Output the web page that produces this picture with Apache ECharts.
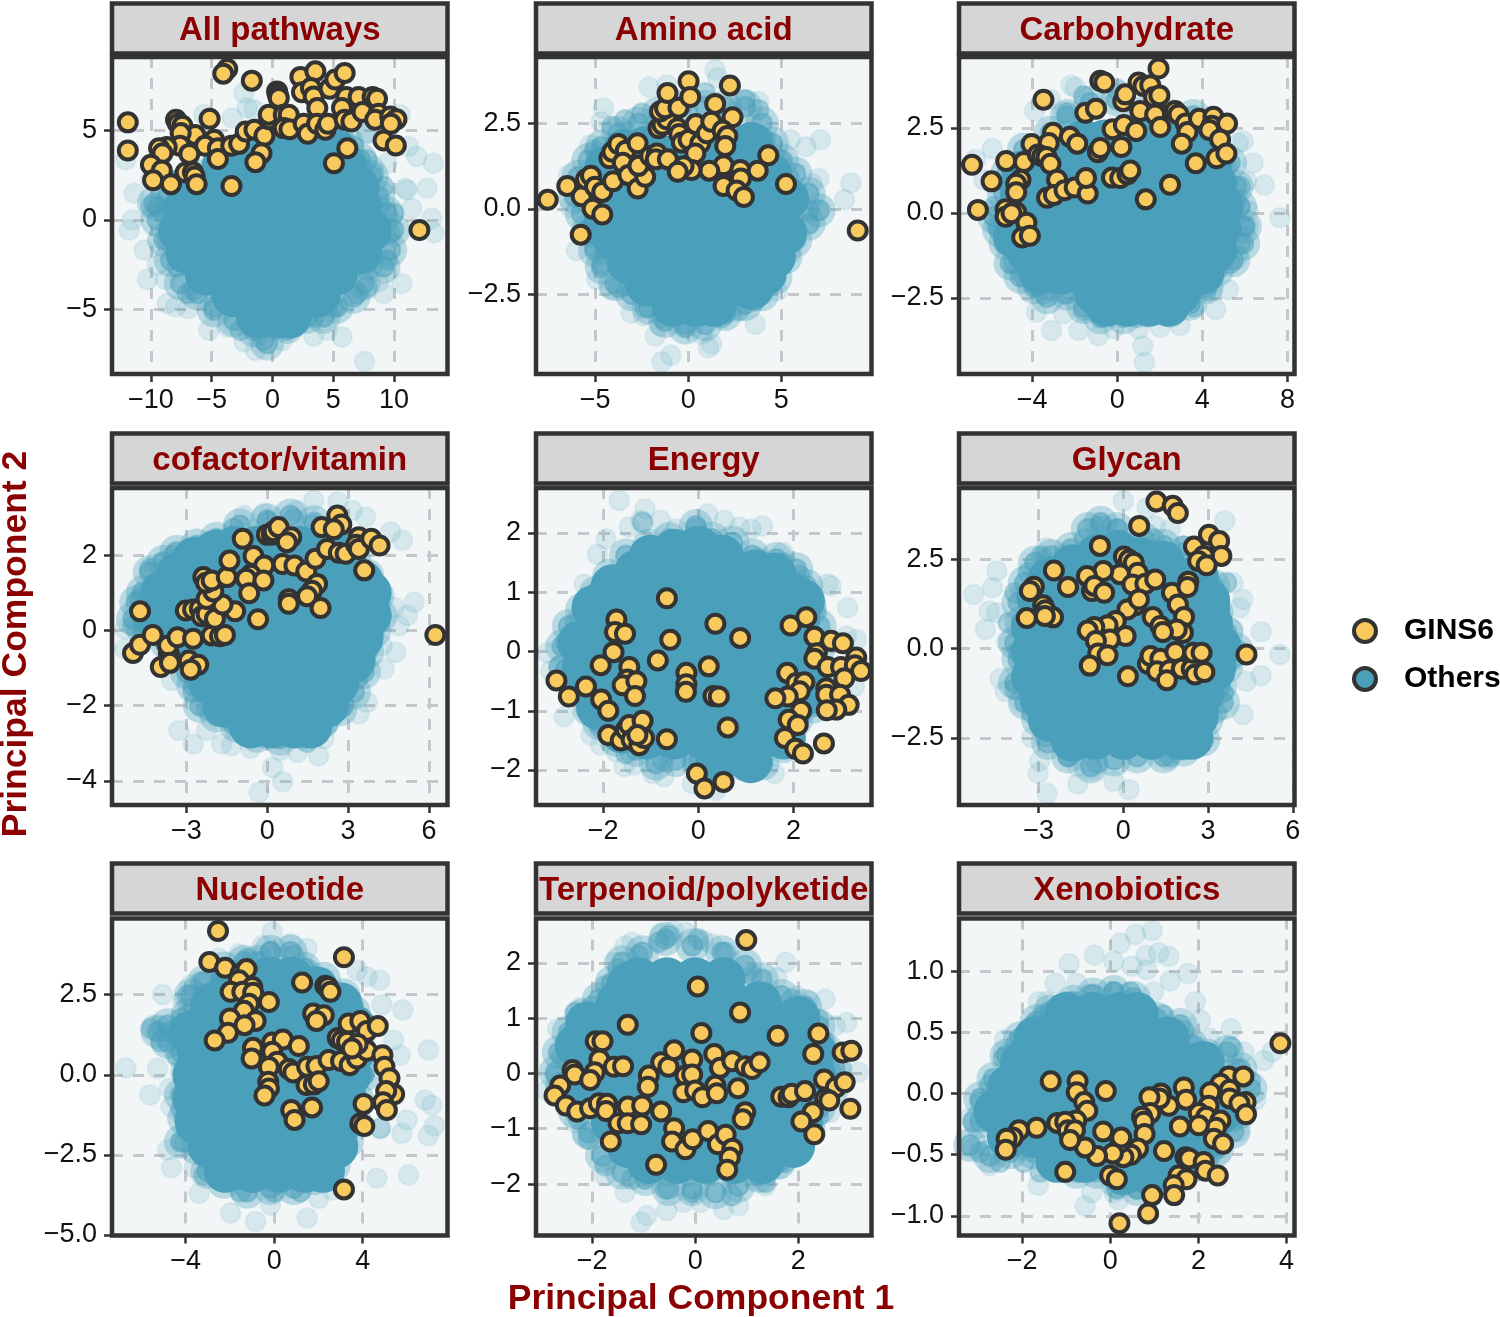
<!DOCTYPE html>
<html>
<head>
<meta charset="utf-8">
<style>html,body{margin:0;padding:0;background:#fff}#main{width:1500px;height:1317px}</style>
<script src="https://cdn.jsdelivr.net/npm/echarts@6/dist/echarts.min.js"></script>
</head>
<body>
<div id="main"></div>
<script>
var seriesNames = ['GINS6', 'Others'];
var panelTitles = ['All pathways','Amino acid','Carbohydrate','cofactor/vitamin','Energy','Glycan','Nucleotide','Terpenoid/polyketide','Xenobiotics'];

// axis limits
var xLimits = [[-13.2,14.4],[-8.17,9.84],[-7.44,8.33],[-5.76,6.69],[-3.41,3.64],[-5.82,6.06],[-7.33,7.83],[-3.09,3.42],[-3.43,4.18]];
var yLimits = [[-8.6,9.1],[-4.82,4.44],[-4.74,4.59],[-4.64,3.79],[-2.59,2.76],[-4.38,4.49],[-5.02,4.88],[-2.93,2.8],[-1.16,1.43]];
var xTicks = [[-10,-5,0,5,10],[-5,0,5],[-4,0,4,8],[-3,0,3,6],[-2,0,2],[-3,0,3,6],[-4,0,4],[-2,0,2],[-2,0,2,4]];
var yTicks = [[-5,0,5],[-2.5,0,2.5],[-2.5,0,2.5],[-4,-2,0,2],[-2,-1,0,1,2],[-2.5,0,2.5],[-5,-2.5,0,2.5],[-2,-1,0,1,2],[-1,-0.5,0,0.5,1]];
var yDecimals = [0,1,1,0,0,1,1,0,1];

// ---- All pathways
var gins1 = [[-11.9,5.45],[-11.9,3.88],[-3.72,8.43],[-4.05,8.17],[-1.7,7.78],[-5.17,5.65],[-7.93,5.6],[-7.77,5.37],[-7.41,5.26],[-6.35,4.74],[-7.55,4.85],[-4.8,4.48],[-5.55,4.14],[-7.6,4.14],[-8.7,4.07],[-9.33,4],[-9.05,3.73],[-6.84,3.69],[-4.49,4],[-4.49,3.4],[-10,3.08],[-9.1,2.76],[-9.82,2.22],[-8.35,2],[-7.14,2.65],[-6.54,2.67],[-6.4,2.43],[-6.24,2],[-3.37,1.9],[-3.39,4.14],[-2.74,4.25],[-2.2,4.94],[-1.48,5.04],[-0.66,4.7],[-0.9,3.73],[-1.4,3.23],[-0.27,5.63],[-0.3,5.88],[0.38,7.18],[0.44,7],[0.52,6.81],[0.93,5.88],[1.34,5.88],[0.93,5.13],[1.4,5.07],[2.57,5.37],[2.9,4.81],[2.3,7.99],[3.53,8.3],[2.43,7.13],[3.17,7.37],[3.39,6.9],[3.69,6.25],[3.67,5.37],[4.35,5.04],[4.57,5.37],[4.7,7.33],[5.17,7.84],[5.94,8.21],[6.07,6.87],[5.72,6.25],[5.94,5.6],[6.5,5.5],[7.09,6.87],[7.41,6.03],[8.24,6.87],[8.6,6.77],[8.73,5.93],[8.45,5.6],[9.69,5.78],[10.2,5.63],[9.74,5.37],[9.14,4.44],[10.15,4.16],[6.16,4.01],[5.06,3.17],[12.09,-0.56]];
var core1 = [[0,4],[2,4],[4,4],[5,4],[-4,3],[-2,3],[0,3],[1.8,3],[3.6,3],[5.4,3],[6,3],[-7,1.8],[-5,1.8],[-3.2,1.8],[-1.4,1.8],[0.4,1.8],[2.2,1.8],[4,1.8],[5.8,1.8],[7,1.8],[-7.2,0.6],[-5.2,0.6],[-3.4,0.6],[-1.6,0.6],[0.2,0.6],[2,0.6],[3.8,0.6],[5.6,0.6],[7.2,0.6],[-7.6,-0.6],[-5.8,-0.6],[-4,-0.6],[-2.2,-0.6],[-0.4,-0.6],[1.4,-0.6],[3.2,-0.6],[5,-0.6],[6.8,-0.6],[8,-0.6],[-7,-1.8],[-5.2,-1.8],[-3.4,-1.8],[-1.6,-1.8],[0.2,-1.8],[2,-1.8],[3.8,-1.8],[5.6,-1.8],[7.2,-1.8],[-5.4,-3],[-3.6,-3],[-1.8,-3],[0,-3],[1.8,-3],[3.6,-3],[5.2,-3],[-3.2,-4.2],[-1.4,-4.2],[0.4,-4.2],[2.2,-4.2],[3.8,-4.2],[-1.2,-5.4],[0.4,-5.4],[1.4,-5.4]];
var ring1 = [[6.13,4.29],[7.22,3.36],[8.18,2.43],[8.73,1.31],[9.41,0.37],[9.96,-0.56],[9.69,-1.68],[9.14,-2.61],[7.77,-2.43],[7.5,-3.54],[6.68,-4.29],[5.31,-4.85],[4.21,-5.41],[2.85,-5.41],[1.2,-5.97],[-0.44,-6.9],[-1.53,-6.16],[-3.17,-5.6],[-4.82,-5.04],[-6.18,-4.1],[-7.55,-3.54],[-8.37,-2.24],[-8.92,-1.12],[-9.47,0],[-9.74,0.93],[-8.65,1.31],[-7.28,1.87],[-5.91,2.43],[-4.54,2.99],[-2.63,3.54],[-0.98,4.29],[0.93,4.48],[2.85,4.48],[4.49,4.48]];
var edge1 = [[7.77,3.36],[8.32,2.61],[9.14,1.87],[9.96,0.37],[9.69,-0.75],[9.41,-2.24],[7.77,-3.73],[6.95,-4.1],[-8.92,0.37],[-9.47,0.75],[-8.65,-1.12],[-7.82,-2.61],[-6.46,-3.92],[-4.82,-4.85],[-2.63,-6.16],[-0.71,-6.72],[1.2,-6.16],[3.39,-5.41],[5.03,-4.85],[-10,0.75],[-7,-4.1],[7.5,-1.87],[8.86,0.75],[8.04,1.12],[6.68,4.1],[7.77,4.85]];
var outer1 = [[13.24,3.17],[11.87,3.54],[11.19,4.1],[10.5,5.88],[12.7,1.77],[10.92,1.77],[11.46,0.65],[13.1,0.09],[13.3,-0.71],[10.64,-3.54],[9.14,-4.1],[8.73,-3.45],[7.58,-7.89],[5.72,-6.53],[3.39,-6.49],[4.49,-6.16],[0.79,-6.72],[-1.4,-7.28],[-2.35,-6.81],[-5.23,-6.16],[-3.72,-5.97],[-8.65,-4.66],[-7.96,-4.85],[-6.95,-4.94],[-10.29,-3.32],[-8.79,-3.32],[-10.56,-1.68],[-9.47,-2.52],[-11.79,-0.56],[-11.52,0],[-11.38,1.49],[-12.07,3.36],[-5.64,5.88],[-3.31,5.69],[-2.35,7.09],[-2.08,6.25],[-1.53,6.16],[6.68,6.53],[9.41,3.17],[11.05,1.68],[-10.01,2.24],[8.32,2.99]];

// ---- Amino acid
var gins2 = [[-7.54,0.27],[-6.49,0.67],[-5.72,0.37],[-5.48,0.87],[-5.22,0.97],[-5,0.65],[-4.61,0.5],[-5.13,0.01],[-4.61,-0.16],[-5.77,-0.75],[-4.03,0.81],[-4.23,1.48],[-4.07,1.67],[-3.75,1.9],[-3.35,1.7],[-3.51,1.35],[-3.21,0.99],[-2.71,0.6],[-2.31,0.94],[-2.72,1.92],[-2.67,1.26],[-2.04,1.55],[-1.68,1.62],[-1.74,1.45],[-1.09,1.45],[-1.59,2.36],[-1.38,2.46],[-1.15,2.62],[-1.51,2.85],[-1.24,2.94],[-1.11,3.39],[-0.52,2.96],[0.02,3.73],[0.11,3.27],[-0.57,2.36],[-0.48,2.19],[-0.34,1.94],[0.02,2.02],[0.41,2.48],[0.65,1.92],[0.38,1.62],[1,2.21],[1.24,2.55],[1.45,3.07],[2.24,3.61],[2.38,2.68],[1.85,2.29],[2.1,2.13],[1.99,1.84],[1.9,1.28],[1.13,1.12],[0.18,1.14],[-0.25,1.25],[-0.56,1.09],[2.08,0.74],[1.9,0.67],[2.8,1.14],[2.83,0.89],[2.6,0.54],[2.99,0.35],[3.73,1.12],[4.3,1.57],[5.25,0.73],[9.1,-0.63]];
var core2 = [[-1,1.5],[0.2,1.5],[1.4,1.5],[2.4,1.5],[-3,1],[-1.8,1],[-0.6,1],[0.6,1],[1.8,1],[3,1],[-3.8,0.4],[-2.6,0.4],[-1.4,0.4],[-0.2,0.4],[1,0.4],[2.2,0.4],[3.4,0.4],[4.4,0.4],[-3.9,-0.25],[-2.7,-0.25],[-1.5,-0.25],[-0.3,-0.25],[0.9,-0.25],[2.1,-0.25],[3.3,-0.25],[4.3,-0.25],[-3.9,-0.9],[-2.7,-0.9],[-1.5,-0.9],[-0.3,-0.9],[0.9,-0.9],[2.1,-0.9],[3.3,-0.9],[-3.2,-1.55],[-2,-1.55],[-0.8,-1.55],[0.4,-1.55],[1.6,-1.55],[2.8,-1.55],[-2.2,-2.2],[-1,-2.2],[0.2,-2.2],[1.4,-2.2],[2.4,-2.2],[-0.8,-2.8],[0.4,-2.8],[1.4,-2.8],[5.2,-0.7],[4.6,-1.4],[4.1,-1.9],[3.4,-2.3],[5.3,0.3],[4.4,1],[-4.4,1.2],[-3.4,1.7],[-2.2,1.8],[3.4,1.9],[-4.6,0.2],[-4.5,-0.5]];
var ring2 = [[-4.64,1.82],[-3.75,2.21],[-2.67,2.5],[-1.59,2.8],[-0.34,2.99],[0.91,2.99],[1.99,2.99],[3.06,2.99],[3.96,2.5],[4.5,1.92],[5.04,1.43],[5.75,1.04],[6.47,0.45],[7.01,-0.04],[6.47,-0.43],[5.75,-0.92],[5.22,-1.41],[4.68,-2],[3.96,-2.49],[3.06,-2.78],[1.99,-3.07],[0.91,-3.37],[-0.16,-3.46],[-1.24,-3.27],[-2.13,-2.88],[-3.03,-2.49],[-3.92,-2.19],[-4.64,-1.7],[-5,-1.21],[-5.36,-0.63],[-5.72,-0.14],[-6.08,0.35],[-5.9,0.94],[-5.36,1.43]];
var edge2 = [[5.93,0.25],[6.47,-0.04],[5.75,-0.53],[5.22,-1.12],[4.68,-1.6],[4.14,-2.29],[3.6,-2.68],[2.71,-2.97],[1.81,-3.17],[-0.16,-3.37],[-1.42,-3.17],[-2.31,-2.88],[-3.75,-2.29],[-4.64,-1.6],[-5,-1.12],[5.39,0.94],[4.86,1.43],[4.14,2.02],[3.78,2.9],[3.06,3.19],[-4.1,2.41],[-3.39,2.6],[-5,1.72],[-2.49,2.8],[5.22,-0.14],[0.91,3.39]];
var outer2 = [[1.45,4.07],[1.59,3.83],[-1.15,3.63],[-2.1,3.56],[-4.55,2.95],[-4.68,2.55],[-5.27,1.87],[-6.43,0.99],[-6.34,0.06],[-5.99,-1.21],[-4.91,-2.05],[-4.19,-2.34],[-3.06,-3.04],[-2.4,-3.12],[-1.77,-3.71],[-1.51,-3.41],[-1.42,-4.46],[-0.93,-4.27],[-0.34,-3.37],[0.73,-3.66],[1.09,-4.05],[1.27,-3.95],[3.6,-3.37],[2.71,-2.83],[4.77,-2.39],[5.48,-1.31],[6.56,-0.43],[7.1,-0.02],[7.01,0.89],[6.65,0.74],[8.39,0.27],[8.73,0.76],[7.1,2.02],[6.33,1.82],[5.48,2.02],[3.78,3.14]];

// ---- Carbohydrate
var gins3 = [[-6.83,1.42],[-5.91,0.93],[-6.55,0.09],[-5.22,1.53],[-4.39,1.5],[-4.03,2.03],[-4.55,0.98],[-4.75,0.86],[-4.75,0.61],[-5.25,0.11],[-5.25,-0.11],[-4.75,0.02],[-4.97,-0.01],[-4.27,-0.29],[-4.47,-0.72],[-4.11,-0.67],[-3.47,3.33],[-3.02,2.36],[-3.22,2.06],[-3.73,1.72],[-3.53,1.67],[-3.33,1.65],[-3.14,1.45],[-2.83,0.98],[-3.3,0.45],[-2.98,0.53],[-2.48,0.67],[-2,0.75],[-1.39,0.57],[-1.47,1.03],[-2.23,2.24],[-1.88,2.04],[-1.5,2.95],[-1,3.07],[-0.8,3.89],[-0.61,3.84],[-0.91,1.79],[-0.8,1.91],[-0.22,2.46],[0.19,1.94],[0.31,2.59],[0.89,2.41],[-0.25,1.04],[0.14,1.03],[0.48,1.14],[0.61,1.25],[0.28,3.29],[0.38,3.49],[1.08,3],[1,3.84],[1.23,3.74],[1.55,3.76],[1.73,3.41],[1.98,3.46],[1.94,4.25],[1.98,2.93],[1.78,2.9],[2.02,2.53],[1.34,0.4],[2.48,0.83],[2.72,3],[2.88,2.9],[3.22,2.63],[3.3,2.38],[3.03,2.04],[3.84,2.77],[3.69,1.46],[4.52,2.83],[4.44,2.57],[4.33,2.44],[5.16,2.63],[4.83,2.16],[4.67,1.61],[5.13,1.75]];
var core3 = [[-1.6,2.1],[-0.6,2.1],[0.4,2.1],[1.4,2.1],[2.4,2.1],[3.4,2.1],[-3.2,1.5],[-2.2,1.5],[-1.2,1.5],[-0.2,1.5],[0.8,1.5],[1.8,1.5],[2.8,1.5],[3.8,1.5],[4.4,1.5],[-3.6,0.85],[-2.6,0.85],[-1.6,0.85],[-0.6,0.85],[0.4,0.85],[1.4,0.85],[2.4,0.85],[3.4,0.85],[4.4,0.85],[4.6,0.85],[-3.8,0.2],[-2.8,0.2],[-1.8,0.2],[-0.8,0.2],[0.2,0.2],[1.2,0.2],[2.2,0.2],[3.2,0.2],[4.2,0.2],[4.9,0.2],[-4,-0.45],[-3,-0.45],[-2,-0.45],[-1,-0.45],[0,-0.45],[1,-0.45],[2,-0.45],[3,-0.45],[4,-0.45],[4.8,-0.45],[-4.2,-1.1],[-3.2,-1.1],[-2.2,-1.1],[-1.2,-1.1],[-0.2,-1.1],[0.8,-1.1],[1.8,-1.1],[2.8,-1.1],[3.8,-1.1],[4.6,-1.1],[-3.6,-1.75],[-2.6,-1.75],[-1.6,-1.75],[-0.6,-1.75],[0.4,-1.75],[1.4,-1.75],[2.4,-1.75],[3.4,-1.75],[4,-1.75],[-1,-2.35],[0,-2.35],[1,-2.35],[2,-2.35],[2.9,-2.35],[-0.5,-2.7],[0.5,-2.7],[1.5,-2.7],[2.4,-2.7],[-4.5,0.6],[-4.7,0],[-4.8,-0.7],[-4.4,1.2]];
var ring3 = [[-4.39,1.86],[-3.14,2.36],[-2.36,2.85],[-1.27,3.24],[-0.02,3.34],[1.23,2.95],[2.48,2.85],[3.58,2.85],[4.52,2.36],[5.3,1.47],[5.61,0.78],[5.77,0.19],[6,-0.4],[5.92,-0.9],[5.45,-1.39],[4.67,-1.69],[4.2,-2.18],[3.42,-2.67],[2.48,-2.87],[1.39,-2.87],[0.3,-3.07],[-0.8,-3.07],[-1.58,-2.77],[-2.36,-2.38],[-3.3,-2.48],[-3.92,-2.18],[-4.55,-1.88],[-5.02,-1.49],[-5.25,-0.9],[-5.56,-0.5],[-5.8,-0.11],[-5.33,0.58],[-5.17,1.17]];
var edge3 = [[5.61,0.38],[5.92,-0.4],[5.77,-0.9],[5.3,-1.49],[4.52,-1.88],[4.2,-2.28],[3.58,-2.77],[2.48,-2.97],[0.92,-3.07],[-0.64,-3.07],[-1.58,-2.87],[-2.52,-2.38],[-3.45,-2.38],[-3.77,-2.18],[-4.39,-1.88],[-4.86,-1.49],[-5.33,-0.9],[-5.64,-0.4],[-5.8,0.19],[5.77,0.78],[5.14,1.37],[4.2,2.36],[-2.36,2.95],[-1.58,3.44],[-0.02,3.64]];
var outer3 = [[-2.17,3.76],[-1.97,3.69],[-3.89,3],[-3.14,3.34],[-2.52,2.95],[-5.88,1.89],[-6.66,1.57],[-6.27,0.98],[5.92,2.11],[5.69,2.06],[6.39,1.47],[6.08,0.93],[6.91,0.82],[6.16,0.06],[7.64,-0.14],[6.16,-0.4],[5.64,-1.29],[5.22,-2.26],[4.44,-2.28],[4.63,-2.84],[2.95,-3.31],[2.02,-3.36],[1,-3.41],[-0.17,-3.41],[-0.88,-3.61],[-1.81,-3.46],[-3.09,-3.46],[-2.52,-2.97],[-3.8,-2.92],[1.2,-3.91],[1.28,-4.4],[5.77,0.14]];

// ---- cofactor/vitamin
var gins4 = [[-4.72,0.51],[-4.98,-0.6],[-4.72,-0.38],[-4.25,-0.12],[-3.65,-0.62],[-3.68,-0.4],[-3.33,-0.18],[-3.95,-0.97],[-3.61,-0.86],[-2.91,-0.8],[-2.56,-0.91],[-2.84,-1.04],[-2.75,-0.22],[-2.06,-0.13],[-1.75,-0.15],[-1.57,-0.12],[-3.02,0.53],[-2.75,0.56],[-2.5,0.58],[-2.43,0.38],[-2.25,0.44],[-1.94,0.31],[-1.19,0.51],[-1.66,0.69],[-2.15,0.95],[-2.25,0.84],[-2,1.04],[-2.37,1.42],[-2.27,1.27],[-2.06,1.33],[-1.5,1.42],[-1.4,1.86],[-0.91,2.44],[-0.51,1.98],[-0.11,1.73],[-0.61,1.48],[-0.78,1.38],[-0.14,1.33],[-0.67,0.99],[-0.34,0.3],[-0.01,2.55],[0.17,2.55],[0.24,2.64],[0.42,2.75],[0.89,2.48],[0.73,2.35],[0.57,1.77],[1.01,1.73],[0.8,0.83],[0.8,0.71],[1.45,1.57],[1.79,1.91],[1.85,1.24],[1.66,1.06],[1.48,0.91],[1.98,0.6],[2.22,2.17],[2.02,2.75],[2.6,3.06],[2.75,2.82],[2.47,2.69],[2.66,2.07],[2.91,2.04],[3.4,2.48],[3.3,2.28],[3.4,2.17],[3.86,2.44],[4.17,2.26],[3.6,1.6],[6.24,-0.12]];
var core4 = [[-1.2,2.2],[-0.4,2.2],[0.4,2.2],[1.2,2.2],[2,2.2],[2.7,2.2],[-2.4,1.6],[-1.6,1.6],[-0.8,1.6],[0,1.6],[0.8,1.6],[1.6,1.6],[2.4,1.6],[3,1.6],[-3,1],[-2.2,1],[-1.4,1],[-0.6,1],[0.2,1],[1,1],[1.8,1],[2.6,1],[3.4,1],[3.8,1],[-3.4,0.4],[-2.6,0.4],[-1.8,0.4],[-1,0.4],[-0.2,0.4],[0.6,0.4],[1.4,0.4],[2.2,0.4],[3,0.4],[3.8,0.4],[-2.6,-0.2],[-1.8,-0.2],[-1,-0.2],[-0.2,-0.2],[0.6,-0.2],[1.4,-0.2],[2.2,-0.2],[3,-0.2],[3.5,-0.2],[-2.2,-0.8],[-1.4,-0.8],[-0.6,-0.8],[0.2,-0.8],[1,-0.8],[1.8,-0.8],[2.6,-0.8],[3.2,-0.8],[-2.1,-1.4],[-1.3,-1.4],[-0.5,-1.4],[0.3,-1.4],[1.1,-1.4],[1.9,-1.4],[2.6,-1.4],[-1.6,-2],[-0.8,-2],[0,-2],[0.8,-2],[1.6,-2],[2.2,-2],[-0.6,-2.55],[0.2,-2.55],[1,-2.55],[1.6,-2.55],[-3.9,1],[-3.3,1.5],[-2.7,1.9],[-1.9,2.1],[-4.2,0.4],[-3.4,-0.2],[3.5,1.3]];
var ring4 = [[-4.61,1.02],[-4.36,1.55],[-3.86,1.82],[-3.37,2.09],[-2.62,2.26],[-1.88,2.44],[-1.01,2.8],[0,2.93],[0.86,3.06],[1.73,2.88],[2.47,2.53],[3.22,2],[3.71,1.46],[4.09,0.93],[4.21,0.4],[3.96,-0.04],[3.71,-0.58],[3.59,-1.11],[3.22,-1.64],[2.72,-2.09],[2.1,-2.35],[1.35,-2.71],[0.48,-2.88],[-0.39,-2.8],[-1.13,-2.53],[-1.88,-2.26],[-2.5,-2],[-2.75,-1.46],[-2.99,-1.11],[-3.74,-0.31],[-4.61,0.04],[-4.98,0.31],[-4.86,0.75]];
var edge4 = [[-4.36,1.64],[-3.99,1.29],[-4.11,0.84],[-4.73,0.84],[-3.49,2],[-3.24,1.73],[-4.98,0.13],[-4.36,0.13],[-2.75,2.09],[-2,2.35],[-1.25,2.71],[0,2.88],[0.98,2.97],[1.73,2.8],[3.71,1.46],[4.09,0.75],[3.84,-0.04],[3.59,-0.84],[3.34,-1.29],[2.84,-2],[2.22,-2.53],[1.48,-2.97],[-0.01,-2.88],[-1.25,-2.53],[-2.25,-2.09],[-2.75,-1.64],[3.96,0.4]];
var outer4 = [[1.73,3.46],[2.62,3.42],[-0.86,3.06],[-0.14,3.11],[1.11,3.19],[3.65,3.02],[4.58,2.62],[5.02,2.4],[3.16,3.19],[-4.21,1.66],[-4.67,0.98],[-5.29,0.04],[-5.29,-0.49],[-3.55,-1.33],[4.71,0.62],[5.45,0.75],[5.2,0.4],[4.89,0.13],[4.77,-0.58],[4.27,-0.4],[4.34,-1.02],[3.71,-1.91],[3.4,-2.22],[-3.28,-2.66],[-2.75,-3.02],[-2.25,-2.66],[-1.69,-3.02],[-1.32,-3.06],[-0.61,-3.13],[0.48,-3.19],[1.13,-3.24],[1.91,-3.33],[2.1,-2.88],[0.2,-3.64],[0.57,-4.02],[-0.3,-4.3]];

// ---- Energy
var gins5 = [[-2.98,-0.49],[-2.72,-0.76],[-2.36,-0.59],[-2.04,-0.81],[-1.89,-1],[-2.05,-0.23],[-1.78,-0.01],[-1.72,0.54],[-1.75,0.33],[-1.54,0.3],[-1.45,-0.26],[-1.49,-0.47],[-1.59,-0.57],[-1.3,-0.5],[-1.33,-0.75],[-1.89,-1.41],[-1.63,-1.5],[-1.52,-1.32],[-1.45,-1.24],[-1.4,-1.49],[-1.24,-1.58],[-1.14,-1.46],[-1.17,-1.17],[-1.28,-1.41],[-0.66,-1.48],[-0.66,0.9],[-0.59,0.2],[-0.85,-0.15],[-0.25,-0.36],[-0.25,-0.55],[-0.26,-0.68],[0.22,-0.25],[0.36,0.47],[0.88,0.23],[0.32,-0.75],[0.43,-0.76],[0.62,-1.28],[-0.03,-2.06],[0.13,-2.31],[0.53,-2.2],[1.94,0.44],[2.27,0.58],[2.44,0.25],[2.49,-0.03],[2.44,-0.12],[2.79,0.18],[3.04,0.14],[2.72,-0.26],[3,-0.26],[3.32,-0.1],[3.29,-0.23],[3.42,-0.33],[3.07,-0.45],[1.87,-0.36],[2.06,-0.53],[2.23,-0.52],[2.13,-0.67],[1.88,-0.76],[1.62,-0.79],[2.69,-0.62],[2.69,-0.73],[2.98,-0.73],[3.16,-0.9],[2.9,-0.98],[2.7,-0.99],[2.16,-1],[1.9,-1.15],[2.09,-1.24],[1.82,-1.46],[2.04,-1.64],[2.2,-1.72],[2.64,-1.55]];
var core5 = [[-0.5,1.7],[0,1.75],[0.5,1.6],[-1,1.6],[-0.6,1.35],[0,1.35],[0.6,1.35],[1.2,1.35],[1.6,1.3],[-1.6,0.95],[-1,0.95],[-0.4,0.95],[0.2,0.95],[0.8,0.95],[1.4,0.95],[2,0.95],[-2,0.55],[-1.4,0.55],[-0.8,0.55],[-0.2,0.55],[0.4,0.55],[1,0.55],[1.6,0.55],[2.1,0.55],[-2.5,0.15],[-1.9,0.15],[-1.3,0.15],[-0.7,0.15],[-0.1,0.15],[0.5,0.15],[1.1,0.15],[1.7,0.15],[2.2,0.15],[-2.4,-0.25],[-1.8,-0.25],[-1.2,-0.25],[-0.6,-0.25],[0,-0.25],[0.6,-0.25],[1.2,-0.25],[1.8,-0.25],[2.3,-0.25],[-2,-0.65],[-1.4,-0.65],[-0.8,-0.65],[-0.2,-0.65],[0.4,-0.65],[1,-0.65],[1.6,-0.65],[2.1,-0.65],[-1.7,-1.05],[-1.1,-1.05],[-0.5,-1.05],[0.1,-1.05],[0.7,-1.05],[1.3,-1.05],[1.9,-1.05],[-1.1,-1.45],[-0.5,-1.45],[0.1,-1.45],[0.7,-1.45],[1.3,-1.45],[1.8,-1.45],[0.4,-1.85],[1.1,-1.85],[-2.2,0.75],[-1.8,1.1],[-1.3,1.35],[2.2,0.85],[-2.5,-0.5],[-2.1,-0.95],[-1.6,-1.35],[2.3,-0.7]];
var ring5 = [[-0.05,2.12],[0.3,1.9],[0.72,1.84],[1.14,1.62],[1.64,1.56],[2.06,1.39],[2.27,1.11],[2.34,0.77],[2.55,0.43],[2.55,0.09],[2.55,-0.47],[2.41,-0.93],[2.06,-1.15],[1.78,-1.6],[1.35,-1.89],[0.93,-1.89],[0.51,-1.83],[0.02,-1.83],[-0.47,-1.83],[-0.89,-1.89],[-1.31,-1.66],[-1.73,-1.49],[-2.08,-1.21],[-2.29,-0.98],[-2.58,-0.64],[-2.79,-0.31],[-2.86,0.09],[-2.72,0.43],[-2.44,0.71],[-2.15,0.99],[-1.87,1.28],[-1.52,1.62],[-1.03,1.79],[-0.61,1.9]];
var edge5 = [[-0.05,2.07],[-0.33,1.84],[0.3,1.84],[-0.82,1.67],[-1.38,1.45],[-1.87,1.28],[0.72,1.67],[1.28,1.56],[1.78,1.5],[2.13,1.28],[2.27,0.88],[2.48,0.66],[-2.58,0.49],[-2.79,0.15],[-2.93,-0.25],[-2.72,-0.53],[-2.36,-0.98],[-2.08,-1.27],[-1.52,-1.72],[-0.75,-1.83],[-0.12,-1.89],[0.51,-1.83],[1.14,-1.89],[1.56,-1.55],[1.92,-1.27],[-1.94,0.88],[-1.17,2.18]];
var outer5 = [[-1.66,2.55],[-1.12,2.41],[-1.21,2.21],[-1.45,2.1],[-0.79,2.21],[-0.47,2.07],[0.2,2.32],[0.55,2.21],[0.86,2.1],[1.35,2.12],[1.11,2.07],[1.78,1.67],[-1.94,1.9],[-2.12,1.64],[-2.4,1.14],[2.72,1.14],[2.79,1.11],[3.14,0.74],[3.11,0.26],[3.32,0.2],[3.28,-0.59],[-3.17,-0.02],[-3.1,-0.33],[-2.82,-1.1],[-2.26,-1.41],[-2.05,-1.58],[-1.56,-1.94],[-1.35,-1.92],[-0.96,-2.06],[-0.72,-2.11],[0.37,-2.34],[0.48,-1.92],[1.6,-2.06],[-0.12,-2.23],[-1.73,-1.69]];

// ---- Glycan
var gins6 = [[1.17,4.11],[1.75,3.99],[1.93,3.79],[0.56,3.43],[3.03,3.18],[3.39,3.01],[3.47,2.59],[2.5,2.85],[2.85,2.59],[2.65,2.45],[2.95,2.33],[-0.83,2.87],[0.02,2.57],[0.2,2.48],[0.37,2.4],[-0.12,2.08],[-0.71,2.17],[-1.29,2.03],[-2.46,2.18],[-1.96,1.72],[-1.11,1.61],[-1.03,1.75],[-0.68,1.56],[0.51,2.12],[0.32,1.79],[0.78,1.81],[1.13,1.93],[-3.17,1.73],[-3.31,1.61],[-2.84,1.21],[-2.76,1.07],[-2.49,0.87],[-2.78,0.91],[-3.42,0.85],[1.72,1.56],[2.3,1.87],[2.27,1.72],[1.93,1.23],[2.15,0.88],[2.11,0.44],[1.89,0.53],[1.04,0.88],[1.31,0.63],[1.4,0.46],[0.43,1.21],[0.14,1.09],[0.55,1.37],[-0.27,0.77],[-0.56,0.65],[-1.03,0.6],[-1.26,0.5],[0.08,0.35],[-0.48,0.25],[-0.97,0.21],[-0.89,-0.14],[-0.56,-0.19],[-1.19,-0.48],[0.16,-0.78],[0.87,-0.43],[0.96,-0.21],[1.31,-0.29],[1.19,-0.64],[1.64,-0.61],[1.54,-0.89],[1.84,-0.1],[2.07,-0.57],[2.42,-0.57],[2.54,-0.73],[2.48,-0.12],[2.77,-0.12],[2.87,-0.66],[4.36,-0.17]];
var core6 = [[-0.9,2.6],[-0.2,2.7],[0.6,2.5],[1.4,2.4],[-1.4,2],[-0.4,2],[0.6,2],[1.6,2],[2.6,2],[-2.2,1.35],[-1.2,1.35],[-0.2,1.35],[0.8,1.35],[1.8,1.35],[2.8,1.35],[3,1.35],[-2.6,0.7],[-1.6,0.7],[-0.6,0.7],[0.4,0.7],[1.4,0.7],[2.4,0.7],[3.1,0.7],[-2.4,0.05],[-1.4,0.05],[-0.4,0.05],[0.6,0.05],[1.6,0.05],[2.6,0.05],[3.4,0.05],[-2.6,-0.6],[-1.6,-0.6],[-0.6,-0.6],[0.4,-0.6],[1.4,-0.6],[2.4,-0.6],[3.2,-0.6],[-2.2,-1.25],[-1.2,-1.25],[-0.2,-1.25],[0.8,-1.25],[1.8,-1.25],[2.8,-1.25],[-2,-1.9],[-1,-1.9],[0,-1.9],[1,-1.9],[2,-1.9],[2.6,-1.9],[-1,-2.5],[0,-2.5],[1,-2.5],[2,-2.5],[2.4,-2.5],[-3,1.4],[-2.6,1.95],[-1.8,2.3],[-3.2,0.6],[-3.2,-0.1],[-3.2,-0.8],[-2.9,-1.4],[-2.6,-2],[-1.8,-2.55],[3,1.1]];
var ring6 = [[-0.8,3.52],[-0.21,3.34],[0.73,3.06],[1.43,2.87],[2.13,2.68],[2.6,2.03],[3.18,1.75],[3.3,1],[3.65,0.44],[4,-0.03],[3.65,-0.5],[3.42,-1.06],[3.53,-1.52],[2.95,-1.99],[2.83,-2.55],[2.13,-2.83],[1.43,-3.02],[0.49,-3.02],[-0.33,-3.11],[-1.15,-3.3],[-1.96,-3.02],[-2.67,-2.64],[-3.02,-1.99],[-3.49,-1.52],[-3.84,-0.96],[-3.72,-0.31],[-3.84,0.16],[-3.6,0.72],[-3.72,1.28],[-3.49,1.84],[-3.13,2.4],[-2.55,2.59],[-1.85,2.78],[-1.26,3.34]];
var edge6 = [[-0.8,3.43],[-0.21,3.34],[-1.38,3.06],[-2.08,2.5],[-2.9,2.59],[-3.37,2.12],[-3.84,1.56],[-4.07,0.72],[-3.72,-0.12],[-3.84,-1.15],[-3.25,-1.8],[-2.78,-2.46],[-1.96,-3.02],[-0.91,-3.21],[1.66,-3.02],[2.6,-2.74],[3.3,-1.8],[3.53,-1.24],[3.88,-0.31],[3.53,0.44],[3.18,1.28],[3.65,1.84],[1.08,3.06],[2.13,2.87],[2.6,2.12],[2.95,1.65]];
var outer6 = [[0,4.13],[0.84,3.94],[1.13,3.43],[1.66,3.34],[3.59,3.57],[3.88,1.84],[4.23,1.37],[4.12,1.14],[3.88,0.53],[4.88,0.47],[5.54,-0.17],[4.88,-0.76],[4.35,-0.92],[4.23,-1.85],[-5.3,1.51],[-4.48,2.17],[-4.63,1.7],[-4.75,1.05],[-4.48,1],[-4.89,0.53],[-4.13,0.18],[-4.36,-0.85],[-4.19,-1.2],[-3.66,-1.48],[-3.25,-2.49],[-2.96,-3.14],[-3.02,-3.49],[-2.7,-4.05],[-1.61,-3.3],[-1.61,-3.79],[-0.33,-3.72],[0.2,-3.95],[-1.09,-3.39],[1.6,-3.11],[-2.73,2.82],[-2.08,2.64]];

// ---- Nucleotide
var gins7 = [[-2.54,4.49],[-2.93,3.52],[-2.22,3.34],[-1.52,3.16],[-1.25,3.3],[-1.59,2.95],[-0.99,2.74],[-1.97,2.59],[-1.44,2.59],[-0.95,2.56],[-0.24,2.27],[-1.14,2.22],[-1.37,2],[-2,1.76],[-0.84,1.68],[-1.34,1.55],[-2.09,1.31],[-2.69,1.07],[-0.96,0.84],[-1.02,0.51],[1.26,2.88],[2.31,2.78],[2.43,2.74],[2.54,2.59],[1.76,1.91],[2.24,1.86],[1.91,1.68],[-0.09,1.01],[0.39,1.1],[1.11,0.9],[-0.09,0.72],[0.14,0.41],[-0.24,0.24],[-0.27,-0.22],[-0.24,-0.43],[-0.44,-0.65],[0.66,0.18],[0.86,0.07],[1.49,0.25],[1.91,0.27],[1.46,-0.32],[1.79,-0.3],[2.01,-0.2],[0.77,-1.1],[0.92,-1.41],[1.71,-1.02],[2.46,0.46],[3.02,0.43],[3.41,0.3],[3.74,0.51],[4.19,0.75],[2.87,1.15],[3.06,1.08],[3.36,1.6],[3.89,1.68],[4.19,1.37],[4.68,1.52],[3.29,1.03],[3.77,0.96],[3.51,0.82],[4.89,0.61],[4.98,0.25],[5.21,-0.11],[5.42,-0.61],[5.06,-0.51],[4.92,-0.86],[5.09,-1.1],[4.04,-0.91],[3.89,-1.52],[4.07,-1.6],[3.15,3.67],[3.15,-3.58]];
var core7 = [[-0.2,3],[0.8,3],[-2.8,2.2],[-1.6,2.2],[-0.4,2.2],[0.9,2.2],[2.1,2.2],[3,2.2],[-3.2,1.5],[-2,1.5],[-0.8,1.5],[0.4,1.5],[1.6,1.5],[2.8,1.5],[3.6,1.5],[-3.4,0.75],[-2.2,0.75],[-1,0.75],[0.2,0.75],[1.4,0.75],[2.6,0.75],[3.6,0.75],[-3.6,0],[-2.4,0],[-1.2,0],[0,0],[1.2,0],[2.4,0],[3.4,0],[-3.6,-0.75],[-2.4,-0.75],[-1.2,-0.75],[0,-0.75],[1.2,-0.75],[2.4,-0.75],[3.2,-0.75],[-3.5,-1.5],[-2.3,-1.5],[-1.1,-1.5],[0.1,-1.5],[1.3,-1.5],[2.5,-1.5],[3,-1.5],[-2.9,-2.25],[-1.7,-2.25],[-0.5,-2.25],[0.7,-2.25],[1.9,-2.25],[2.8,-2.25],[-2.2,-3],[-1,-3],[0.2,-3],[1.4,-3],[2.2,-3],[-1.9,2.9],[1.9,2.7],[-3.8,1.3]];
var ring7 = [[-0.17,3.84],[0.74,3.84],[1.34,3.32],[2.24,3],[3.14,2.48],[3.59,1.96],[3.74,1.34],[3.89,0.61],[4.04,-0.01],[3.74,-0.74],[3.59,-1.36],[3.29,-2.09],[2.69,-2.82],[1.79,-3.23],[0.89,-3.54],[-0.17,-3.54],[-1.22,-3.65],[-2.27,-3.34],[-3.02,-3.03],[-3.47,-2.3],[-4.22,-2.09],[-4.07,-1.36],[-4.22,-0.63],[-3.92,0.09],[-4.22,0.72],[-4.82,1.03],[-5.27,1.34],[-4.82,1.55],[-3.92,1.86],[-3.77,2.48],[-3.17,2.9],[-2.27,3.32],[-1.37,3.52],[-0.77,3.52]];
var edge7 = [[-0.17,3.84],[0.89,3.73],[1.49,3.32],[-1.22,3.63],[-2.27,3.32],[-3.32,2.9],[-3.92,2.48],[-4.22,1.76],[-4.67,1.34],[-5.12,1.03],[-4.37,0.61],[-4.07,-0.22],[-4.22,-1.05],[-4.07,-2.09],[-3.17,-3.13],[-1.52,-3.65],[-0.02,-3.65],[1.19,-3.65],[2.39,-3.03],[3.29,-2.3],[3.74,-1.26],[4.04,-0.01],[3.14,2.48],[3.59,1.96],[-5.57,1.44],[4.79,-1.67]];
var outer7 = [[-0.09,4.46],[0.74,4.1],[1.49,3.94],[-0.54,4.04],[-1.59,3.78],[-2.49,3.63],[-5.05,2.51],[-3.77,2.8],[-4.14,2.33],[-6.7,0.22],[-5.27,0.2],[-5.5,1.55],[-5.62,-0.63],[-4.74,-0.43],[-4.67,-1],[-4.82,-2.35],[-4.64,-2.9],[-3.62,-2.9],[-3.39,-3.7],[-1.97,-4.32],[-0.84,-4.58],[-0.17,-4.06],[1.49,-4.48],[2.01,-3.86],[2.61,-3.6],[4.64,-3.23],[6.07,-3.13],[6.97,-1.9],[7.24,-1.59],[5.77,-1.83],[6,-1.41],[7.12,-0.95],[6.82,-0.79],[6.97,0.77],[5.69,0.61],[5.39,1.08],[5.81,2.02],[4.86,2.19],[4.77,2.95],[4.19,3.06],[3.74,3.26]];

// ---- Terpenoid/polyketide
var gins8 = [[0.99,2.41],[0.05,1.57],[0.87,1.1],[-1.31,0.88],[0.12,0.73],[1.6,0.68],[2.39,0.72],[2.29,0.35],[-1.93,0.58],[-1.8,0.58],[-1.86,0.25],[-1.58,0.12],[-1.4,0.13],[-2.38,0.06],[-2.34,-0.02],[-1.95,0.02],[-2.04,-0.12],[-2.62,-0.22],[-2.73,-0.4],[-2.51,-0.58],[-2.29,-0.69],[-2.04,-0.63],[-1.87,-0.54],[-1.71,-0.55],[-1.73,-0.68],[-1.31,-0.6],[-1.03,-0.58],[-0.9,-0.04],[-0.92,-0.24],[-0.66,-0.69],[-1.49,-0.9],[-1.31,-0.9],[-1.05,-0.92],[-1.64,-1.23],[-0.76,-1.65],[-0.66,0.2],[-0.52,0.12],[-0.41,0.42],[-0.06,0.25],[-0.19,-0.04],[-0.06,-0.02],[-0.23,-0.34],[0,-0.31],[0.14,-0.43],[0.39,-0.22],[0.42,-0.36],[0.37,0.35],[0.48,0.1],[0.72,0.22],[0.97,0.13],[1.1,0.08],[1.25,0.2],[0.83,-0.27],[0.97,-0.7],[0.92,-0.83],[-0.41,-0.99],[-0.45,-1.23],[-0.19,-1.37],[-0.05,-1.19],[0.25,-1.04],[0.44,-1.28],[0.59,-1.11],[0.72,-1.36],[0.67,-1.52],[0.62,-1.74],[1.67,-0.42],[1.81,-0.43],[1.87,-0.37],[2.13,-0.32],[2.5,-0.11],[2.73,-0.25],[2.9,-0.16],[2.52,-0.46],[2.6,-0.49],[2.28,-0.7],[2.06,-0.87],[2.31,-1.1],[3.01,-0.64],[2.86,0.38],[3.03,0.41]];
var core8 = [[-1.1,1.7],[-0.55,1.7],[0,1.7],[0.55,1.7],[-1.5,1.27],[-0.95,1.27],[-0.4,1.27],[0.15,1.27],[0.7,1.27],[1.25,1.27],[-1.7,0.84],[-1.15,0.84],[-0.6,0.84],[-0.05,0.84],[0.5,0.84],[1.05,0.84],[1.6,0.84],[2,0.84],[-1.9,0.41],[-1.35,0.41],[-0.8,0.41],[-0.25,0.41],[0.3,0.41],[0.85,0.41],[1.4,0.41],[1.95,0.41],[2.3,0.41],[-1.9,-0.02],[-1.35,-0.02],[-0.8,-0.02],[-0.25,-0.02],[0.3,-0.02],[0.85,-0.02],[1.4,-0.02],[1.95,-0.02],[2.3,-0.02],[-1.7,-0.45],[-1.15,-0.45],[-0.6,-0.45],[-0.05,-0.45],[0.5,-0.45],[1.05,-0.45],[1.6,-0.45],[2,-0.45],[-1.6,-0.88],[-1.05,-0.88],[-0.5,-0.88],[0.05,-0.88],[0.6,-0.88],[1.15,-0.88],[1.7,-0.88],[2.05,-0.88],[-1.3,-1.31],[-0.75,-1.31],[-0.2,-1.31],[0.35,-1.31],[0.9,-1.31],[1.45,-1.31],[1.9,-1.31],[-0.9,-1.6],[-0.35,-1.6],[0.2,-1.6],[0.75,-1.6],[1.3,-1.6],[-2.3,0.5],[-2.1,0.9],[-1.3,1.6],[2,1],[-2.3,-0.3]];
var ring8 = [[-0.58,2.43],[-1.03,2.19],[-1.42,2.01],[-1.62,1.64],[-1.87,1.34],[-2.2,1.04],[-2.46,0.74],[-2.65,0.38],[-2.71,0.02],[-2.59,-0.28],[-2.33,-0.7],[-2.07,-1.07],[-1.81,-1.49],[-1.42,-1.79],[-0.97,-1.91],[-0.52,-2.09],[-0.06,-2.09],[0.39,-2.15],[0.84,-2.03],[1.23,-1.85],[1.62,-1.61],[1.94,-1.37],[2.2,-1.01],[2.39,-0.64],[2.65,-0.28],[2.71,0.08],[2.52,0.44],[2.39,0.86],[2.13,1.22],[1.68,1.4],[1.29,1.7],[0.97,1.95],[0.52,2.19],[-0.06,2.31]];
var edge8 = [[-0.71,2.37],[-0.52,2.49],[-1.1,2.13],[-1.49,1.89],[-1.75,1.58],[-2,1.22],[-2.33,1.1],[-2.46,0.56],[-2.59,0.32],[-2.71,-0.04],[-2.26,-0.83],[-2.07,-1.19],[-1.75,-1.67],[-1.23,-1.91],[-0.58,-2.09],[-0.06,-2.15],[0.71,-2.21],[1.36,-1.97],[1.75,-1.61],[2.07,-1.25],[2.39,-0.77],[2.65,0.02],[2.52,0.56],[2.39,0.98],[1.87,1.34],[1.1,1.77],[0.58,2.19],[0.06,2.43]];
var outer8 = [[-0.68,2.52],[-0.42,2.58],[-0.19,2.55],[0.16,2.4],[0.32,2.34],[-1.36,2.3],[-1.23,2.37],[-1.58,2.01],[1.75,2.01],[1.58,1.73],[1.97,1.4],[2.52,1.34],[2.2,1.31],[2.94,0.92],[2.71,0.86],[3.17,0.02],[2.84,0.08],[2.62,-0.7],[2,-1.37],[1.62,-1.73],[1.36,-2.03],[-2.23,1.19],[-2.67,0.8],[-2.88,-0.31],[-2.33,-0.89],[-2.17,-1.13],[-1.75,-1.85],[-1.36,-2.15],[-1.05,-2.69],[-0.94,-2.57],[-0.55,-2.48],[-0.23,-2.33],[0.1,-2.33],[0.55,-2.46],[0.84,-2.39]];

// ---- Xenobiotics
var gins9 = [[3.86,0.41],[2.69,0.14],[3.02,0.14],[2.5,0.08],[2.71,0.03],[2.27,0.01],[2.23,-0.1],[2.71,-0.04],[3.07,-0.07],[2.93,-0.08],[3.08,-0.17],[2.01,-0.16],[2.18,-0.19],[2.5,-0.22],[2.4,-0.28],[2.01,-0.26],[2.35,-0.37],[2.56,-0.41],[1.67,0.05],[1.72,-0.05],[1.33,-0.1],[1.15,0],[1.12,-0.04],[0.89,-0.03],[0.91,-0.16],[0.72,-0.19],[0.76,-0.23],[0.78,-0.33],[1.58,-0.27],[0.63,-0.45],[0.47,-0.5],[0.3,-0.52],[0.23,-0.4],[0.25,-0.36],[0.06,-0.49],[-0.3,-0.51],[-0.57,-0.44],[-0.16,-0.31],[-0.1,0.02],[-0.74,0.1],[-0.76,0.01],[-0.59,-0.07],[-0.52,-0.14],[-0.77,-0.22],[-1.2,-0.24],[-1.02,-0.23],[-0.96,-0.3],[-0.8,-0.3],[-0.91,-0.38],[-1.35,0.1],[-1.67,-0.28],[-2.07,-0.3],[-2.21,-0.36],[-2.35,-0.37],[-2.37,-0.46],[-1.02,-0.64],[0,-0.67],[0.15,-0.7],[1.22,-0.47],[1.71,-0.52],[1.79,-0.53],[2.12,-0.56],[2.16,-0.63],[2.44,-0.67],[1.55,-0.67],[1.73,-0.7],[1.44,-0.75],[1.45,-0.83],[0.95,-0.83],[0.86,-0.98],[0.21,-1.06]];
var core9 = [[-1,0.65],[-0.4,0.65],[0.2,0.65],[0.6,0.65],[-1.7,0.45],[-1.1,0.45],[-0.5,0.45],[0.1,0.45],[0.7,0.45],[1.3,0.45],[-2,0.25],[-1.4,0.25],[-0.8,0.25],[-0.2,0.25],[0.4,0.25],[1,0.25],[1.6,0.25],[2.1,0.25],[-2.3,0.05],[-1.7,0.05],[-1.1,0.05],[-0.5,0.05],[0.1,0.05],[0.7,0.05],[1.3,0.05],[1.9,0.05],[2.4,0.05],[-2.6,-0.15],[-2,-0.15],[-1.4,-0.15],[-0.8,-0.15],[-0.2,-0.15],[0.4,-0.15],[1,-0.15],[1.6,-0.15],[2.2,-0.15],[2.5,-0.15],[-2.3,-0.35],[-1.7,-0.35],[-1.1,-0.35],[-0.5,-0.35],[0.1,-0.35],[0.7,-0.35],[1.3,-0.35],[1.9,-0.35],[2.2,-0.35],[-1.2,-0.55],[-0.6,-0.55],[0,-0.55],[0.6,-0.55],[1.2,-0.55],[1.6,-0.55],[0.3,-0.65],[0.9,-0.65],[1.3,-0.65]];
var ring9 = [[0.08,0.83],[-0.38,0.81],[-0.83,0.75],[-1.36,0.67],[-1.67,0.59],[-2.05,0.45],[-2.35,0.31],[-2.65,0.12],[-2.95,-0.04],[-2.95,-0.23],[-3.18,-0.42],[-2.73,-0.51],[-2.27,-0.48],[-1.74,-0.48],[-1.21,-0.53],[-0.76,-0.64],[-0.3,-0.64],[0.15,-0.72],[0.61,-0.78],[1.06,-0.67],[1.59,-0.61],[2.05,-0.56],[2.42,-0.45],[2.8,-0.31],[2.95,-0.15],[3.18,0.04],[2.95,0.2],[2.65,0.34],[2.2,0.31],[1.82,0.4],[1.59,0.56],[1.06,0.61],[0.53,0.78]];
var edge9 = [[0.08,0.83],[0.45,0.83],[-0.45,0.81],[-0.98,0.75],[-1.52,0.64],[-1.74,0.56],[1.21,0.64],[1.67,0.51],[1.89,0.4],[2.73,0.38],[2.88,0.2],[-2.12,0.42],[-2.42,0.29],[-2.73,0.07],[-2.95,-0.07],[-3.11,-0.23],[-2.95,-0.48],[-2.5,-0.56],[-1.97,-0.56],[-1.59,-0.64],[-0.45,-0.64],[0.15,-0.78],[0.61,-0.78],[1.21,-0.64],[2.27,-0.51],[2.8,-0.23],[3.18,0.1]];
var outer9 = [[0.95,1.33],[0.57,1.3],[0.23,1.23],[-0.36,1.13],[-0.93,1.06],[0.08,1.08],[0.49,1.04],[0.81,1.13],[1.1,1.15],[1.33,1.12],[0.83,1.01],[1.76,0.98],[0.98,0.83],[1.36,0.92],[-1.25,0.9],[-0.76,0.9],[-1.44,0.75],[-1.63,0.75],[1.93,0.75],[2.05,0.6],[2.74,0.53],[2.27,0.45],[3.48,0.27],[3.67,0.34],[3.03,0.34],[3.3,-0.05],[2.92,-0.31],[-2.42,0.34],[-2.39,0.44],[-3.18,-0.2],[-3.14,-0.45],[-2.73,-0.59],[-1.63,-0.75],[-0.42,-0.81],[-0.57,-0.92],[0.19,-0.87],[0.08,-0.81],[2.5,-0.51]];

var ginsData = [gins1,gins2,gins3,gins4,gins5,gins6,gins7,gins8,gins9];
var coreData = [core1,core2,core3,core4,core5,core6,core7,core8,core9];
var ringData = [ring1,ring2,ring3,ring4,ring5,ring6,ring7,ring8,ring9];
var edgeData = [edge1,edge2,edge3,edge4,edge5,edge6,edge7,edge8,edge9];
var outerData = [outer1,outer2,outer3,outer4,outer5,outer6,outer7,outer8,outer9];

var colLeft = [112, 536, 959];
var rowTop = [57, 488, 918.5];
var stripTop = [3.5, 433.5, 863.5];
var panelW = 335.5, panelH = 317;
var darkRed = '#8b0000', frame = '#333333', blue = '#4a9fbb', yellow = '#f8ca5e';
var fontName = '"Liberation Sans", Arial, sans-serif';

function minusSign(v, decimals){
	return (v < 0 ? '\u2212' : '') + Math.abs(v).toFixed(decimals);
}

var grids = [], xAxes = [], yAxes = [], series = [], graphics = [];

function othersSeries(i, data, size, alpha, borderAlpha){
	return {
		name: seriesNames[1], type: 'scatter', xAxisIndex: i, yAxisIndex: i, data: data,
		symbolSize: size, z: 2,
		itemStyle: {
			color: 'rgba(74,159,187,' + alpha + ')',
			borderColor: 'rgba(74,159,187,' + borderAlpha + ')',
			borderWidth: 2
		},
		emphasis: {disabled: true}, animation: false
	};
}

function addPanel(i){
	var panelLeft = colLeft[i % 3], panelTop = rowTop[Math.floor(i / 3)], stripY = stripTop[Math.floor(i / 3)];
	var dec = yDecimals[i];
	var dash = {show: true, lineStyle: {color: '#c4c8ca', width: 3, type: [11, 10]}};

	grids.push({left: panelLeft, top: panelTop, width: panelW, height: panelH, show: true, backgroundColor: '#f2f6f7', borderWidth: 0});
	xAxes.push({
		gridIndex: i, type: 'value', position: 'bottom', min: xLimits[i][0], max: xLimits[i][1],
		axisLine: {show: false, onZero: false},
		axisTick: {show: true, length: 8, lineStyle: {color: frame, width: 2.5}, customValues: xTicks[i]},
		axisLabel: {fontFamily: fontName, fontSize: 27, color: '#111', margin: 13, customValues: xTicks[i], showMinLabel: true, showMaxLabel: true,
			formatter: function(v){ return minusSign(v, 0); }},
		splitLine: dash
	});
	yAxes.push({
		gridIndex: i, type: 'value', position: 'left', min: yLimits[i][0], max: yLimits[i][1],
		axisLine: {show: false, onZero: false},
		axisTick: {show: true, length: 8, lineStyle: {color: frame, width: 2.5}, customValues: yTicks[i]},
		axisLabel: {fontFamily: fontName, fontSize: 27, color: '#111', margin: 15, padding: [5, 0, 0, 0], customValues: yTicks[i], showMinLabel: true, showMaxLabel: true,
			formatter: function(v){ return minusSign(v, dec); }},
		splitLine: dash
	});

	series.push(othersSeries(i, outerData[i], 20, 0.2, 0.12));
	series.push(othersSeries(i, edgeData[i], 20, 0.5, 0.35));
	series.push(othersSeries(i, ringData[i], 34, 0.42, 0));
	series.push(othersSeries(i, ringData[i], 20, 0.65, 0.5));
	series.push({
		name: seriesNames[1], type: 'scatter', xAxisIndex: i, yAxisIndex: i, data: coreData[i],
		symbolSize: 44, z: 3, itemStyle: {color: blue, opacity: 1}, emphasis: {disabled: true}, animation: false
	});
	series.push({
		name: seriesNames[0], type: 'scatter', xAxisIndex: i, yAxisIndex: i, data: ginsData[i],
		symbolSize: 18, z: 4, itemStyle: {color: yellow, borderColor: frame, borderWidth: 4, opacity: 1},
		emphasis: {disabled: true}, animation: false
	});

	// panel frame and strip
	graphics.push({type: 'rect', z: 50, shape: {x: panelLeft, y: panelTop, width: panelW, height: panelH}, style: {fill: 'none', stroke: frame, lineWidth: 4.5}});
	graphics.push({type: 'rect', z: 50, shape: {x: panelLeft, y: stripY, width: panelW, height: 50}, style: {fill: '#d6d6d6', stroke: frame, lineWidth: 4.5}});
	graphics.push({type: 'text', z: 51, x: panelLeft + panelW / 2, y: stripY + 27,
		style: {text: panelTitles[i], fill: darkRed, font: 'bold 33px ' + fontName, textAlign: 'center', textVerticalAlign: 'middle'}});
}

for (var i = 0; i < 9; i++) {
	addPanel(i);
}

graphics.push({type: 'text', z: 51, x: 701, y: 1299,
	style: {text: 'Principal Component 1', fill: darkRed, font: 'bold 35.5px ' + fontName, textAlign: 'center', textVerticalAlign: 'middle'}});
graphics.push({type: 'text', z: 51, x: 16, y: 644, rotation: Math.PI / 2,
	style: {text: 'Principal Component 2', fill: darkRed, font: 'bold 35.5px ' + fontName, textAlign: 'center', textVerticalAlign: 'middle'}});

var myChart = echarts.init(document.getElementById('main'), null, {renderer: 'canvas'});
myChart.setOption({
	animation: false,
	backgroundColor: '#ffffff',
	grid: grids,
	xAxis: xAxes,
	yAxis: yAxes,
	series: series,
	graphic: graphics,
	legend: {
		orient: 'vertical', left: 1347, top: 611, itemWidth: 22, itemHeight: 22, itemGap: 18, selectedMode: false,
		textStyle: {fontFamily: fontName, fontSize: 30, fontWeight: 'bold', color: '#000', padding: [0, 0, 0, 23]},
		data: [
			{name: seriesNames[0], icon: 'circle', itemStyle: {color: yellow, borderColor: frame, borderWidth: 4, opacity: 1}},
			{name: seriesNames[1], icon: 'circle', itemStyle: {color: blue, borderColor: frame, borderWidth: 4, opacity: 1}}
		]
	}
});
</script>
</body>
</html>
